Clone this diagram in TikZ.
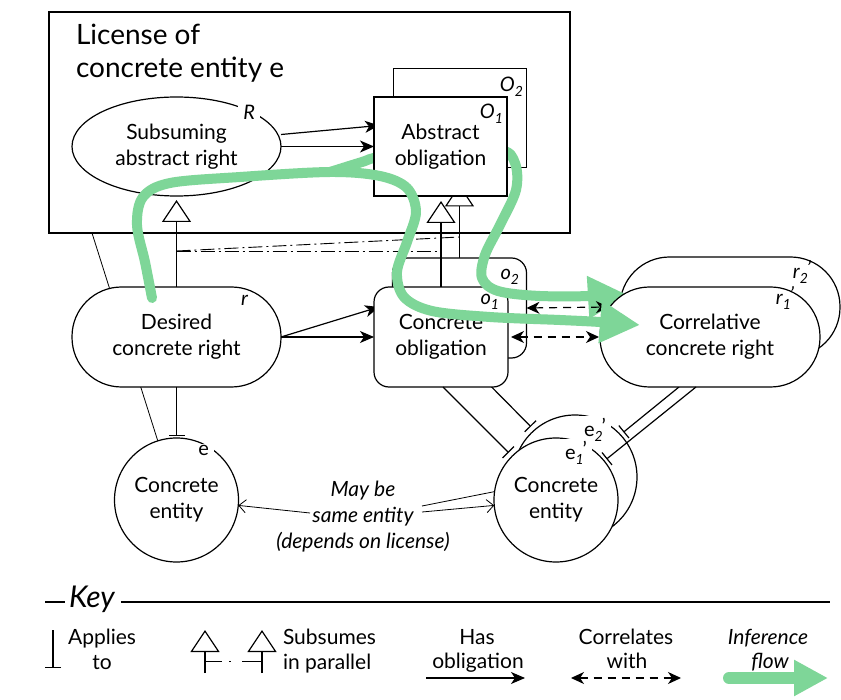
\documentclass[tikz,border=0pt]{standalone}
\usepackage{fontspec}
\setmainfont{Lato}
\usetikzlibrary{arrows.meta,shapes.geometric,calc}
\pgfdeclarelayer{paper}
\pgfdeclarelayer{back}
\pgfsetlayers{paper,back,main}
\definecolor{flowgreen}{RGB}{126,214,152}
% label with an italic subscript, and the same with a prime
\newcommand{\lblsub}[2]{#1\raisebox{-0.45ex}{\fontsize{14}{14}\selectfont\itshape #2}}
\newcommand{\lblsubp}[2]{#1\raisebox{-0.45ex}{\fontsize{14}{14}\selectfont\itshape #2}\kern-0.05em\raisebox{0.35ex}{'}}
\begin{document}
\begin{tikzpicture}[x=1pt,y=-1pt,
  every node/.style={inner sep=0pt, outer sep=0pt},
  boxtext/.style={font=\fontsize{21}{26}\selectfont, align=center},
  thing/.style={boxtext, draw, line width=1.2pt, fill=white},
  absbox/.style={thing, rectangle, minimum width=133pt, minimum height=99pt},
  conbox/.style={thing, rectangle, rounded corners=15pt, minimum width=134pt, minimum height=100pt},
  stadium/.style={thing, rectangle, rounded corners=49.5pt, minimum width=220pt, minimum height=100pt},
  entity/.style={thing, circle, minimum size=124pt},
  tag/.style={font=\fontsize{20}{20}\selectfont\itshape, anchor=base east},
  gaptag/.style={tag, fill=white, inner xsep=5pt, inner ysep=2pt},
  uptag/.style={font=\fontsize{20}{20}\selectfont},
  keytext/.style={font=\fontsize{21}{21}\selectfont, anchor=base},
  link/.style={line width=1.2pt},
  hasobl/.style={link, -{Stealth[length=14pt,width=12pt,inset=4pt]}},
  corr/.style={link, dash pattern=on 8pt off 6pt,
    {Stealth[length=13pt,width=12pt,inset=4pt]}-{Stealth[length=13pt,width=12pt,inset=4pt]}},
  applies/.style={link, -{Bar[width=16pt]}},
  subsumes/.style={link, -{Triangle[width=29pt,length=22pt,fill=white]}},
  inpar/.style={line width=0.9pt, dash pattern=on 14pt off 4pt on 2pt off 4pt},
  faint/.style={line width=0.8pt},
  faintarrow/.style={faint, -{Straight Barb[length=7pt,width=13pt]}},
  flowline/.style={draw=flowgreen, line width=10pt, line cap=round, line join=round},
  flowhead/.style={-{Triangle[width=40pt,length=40pt]}},
]
\begin{pgfonlayer}{paper}
  \fill[white] (0,0) rectangle (841,700);
\end{pgfonlayer}
\useasboundingbox (0,0) rectangle (841,700);

% ---------- licence frame ----------
\node[draw, line width=1.2pt, minimum width=521pt, minimum height=221pt] (lic) at (309.5,122.5) {};
\node[font=\fontsize{28}{33}\selectfont, anchor=base west] (lic1) at (76,45) {License of};
\node[font=\fontsize{28}{33}\selectfont, anchor=base west] (lic2) at (76,78) {concrete entity e};
\coordinate (licfoot) at (92,233);

% ---------- second copies (behind) ----------
\node[absbox] (O2) at (460,118) {};
\node[tag] (lO2) at (523,92) {\lblsub{O}{2}};
\node[conbox] (o2) at (459.5,308) {};
\node[tag] (lo2) at (519,280) {\lblsub{o}{2}};
\node[stadium] (rp2) at (730,307) {};
\node[tag] (lrp2) at (811,279) {\lblsubp{r}{2}};
\node[entity] (ep2) at (575,477) {};
\node[gaptag, uptag] (lep2) at (611,437) {\lblsubp{e}{2}};

% ---------- front nodes ----------
\node[thing, ellipse, minimum width=209pt, minimum height=99pt] (R) at (176.5,146.5) {Subsuming\\abstract right};
\node[gaptag] (lR) at (260,120) {R};
\node[stadium, minimum width=209pt] (rnode) at (176.5,337) {Desired\\concrete right};
\node[tag] (lr) at (248,306) {r};
\node[entity] (e) at (176.5,500) {Concrete\\entity};
\node[gaptag, uptag] (le) at (214,456) {e};
\node[conbox] (o1) at (441,337) {Concrete\\obligation};

% inference flow towards the second correlative right (runs under the abstract obligation)
\draw[flowline, flowhead] plot[smooth, tension=0.55] coordinates {(330,172) (362,162) (380,157) (440,152) (500,150) (515,163) (516,190) (500,225) (485,255) (482,278) (498,291) (540,296) (600,296) (628,295)};

\node[absbox] (O1) at (440.5,146.5) {Abstract\\obligation};
\node[tag] (lO1) at (503,119) {\lblsub{O}{1}};
\node[stadium] (rp1) at (710,337) {Correlative\\concrete right};
\node[tag] (lrp1) at (794,305) {\lblsubp{r}{1}};
\node[entity] (ep1) at (556,500) {Concrete\\entity};
\node[gaptag, uptag] (lep1) at (592,460) {\lblsubp{e}{1}};

\node[font=\fontsize{21}{26}\selectfont\itshape, align=center] (maybe) at (363,517) {May be\\same entity\\(depends on license)};
\coordinate (ml) at (310,513);
\coordinate (mr1) at (422,512);
\coordinate (mr2) at (422,506);

% ---------- connectors hidden behind the front nodes ----------
\begin{pgfonlayer}{back}
  \draw[faint] (licfoot) -- (e);
  \draw[hasobl] ($(R.east)+(0,-12)$) -- ($(O1.west)+(5,-21)$);
  \draw[hasobl] (rnode.east) -- ($(o1.west)+(5,-30)$);
  \draw[subsumes, shorten >=17pt] (o2.north) -- (o2.north |- O2.south);
  \draw[applies, shorten >=5pt] ($(o2.south)+(3.5,0)$) -- (ep2.131);
  \draw[applies, shorten >=4pt] ($(rp1.south)+(-31,0)$) -- (ep2.43);
  \draw[faintarrow] (mr2) -- (ep2.190);
\end{pgfonlayer}

% ---------- visible connectors ----------
\draw[hasobl] (R.east) -- (O1.west);
\draw[hasobl] (rnode.east) -- (o1.west);
\draw[subsumes, shorten >=4pt] (rnode.north) -- (R.south);
\draw[subsumes, shorten >=5pt] (o1.north) -- (o1.north |- O1.south);
\coordinate (par0) at (rnode.north |- 0,251);
\draw[inpar] (par0) -- (par0 -| o1.north);
\draw[inpar] (par0) -- (o2.north |- 0,237);

\draw[applies, shorten >=2pt] (rnode.south) -- (e.north);
\draw[applies, shorten >=5pt] ($(o1.south)+(2,0)$) -- (ep1.135);
\draw[applies, shorten >=3pt] ($(rp1.south)+(-14,0)$) -- (ep1.39);

\draw[corr] (o2.east) -- ($(rp1.west)+(9,-30)$);
\draw[corr] ($(o1.east)+(3,0)$) -- ($(rp1.west)+(-1,0)$);

\draw[faintarrow] (ml) -- (e.-5);
\draw[faintarrow] (mr1) -- (ep1.185);

% inference flow from the desired right to the first correlative right
\draw[flowline, flowhead] plot[smooth, tension=0.55] coordinates {(152,298) (145,262) (137,225) (143,197) (170,183) (240,177) (330,172) (380,176) (407,188) (416,212) (407,242) (397,272) (404,297) (432,311) (490,317) (560,320) (600,322) (640,325)};
\node[tag] (lo1) at (499,305) {\lblsub{o}{1}};

% ---------- key ----------
\node[font=\fontsize{30}{30}\selectfont\itshape, anchor=base west] (key) at (69,607) {Key};
\coordinate (keystart) at (45,602);
\coordinate (keyend) at (830,602);
\draw[link] (keystart) -- ($(key.base west)+(-4,-5)$);
\draw[link] ($(key.base east)+(6,-5)$) -- (keyend);

\coordinate (kA1) at (53,630);
\coordinate (kA2) at (53,668);
\draw[applies] (kA1) -- (kA2);
\node[keytext] (kAt1) at (102,644) {Applies};
\node[keytext] (kAt2) at (102,669) {to};

\coordinate (kS1a) at (205,673);
\coordinate (kS1b) at (205,630);
\coordinate (kS2a) at (262,673);
\coordinate (kS2b) at (262,630);
\draw[subsumes] (kS1a) -- (kS1b);
\draw[subsumes] (kS2a) -- (kS2b);
\draw[line width=0.9pt, dash pattern=on 17pt off 7pt on 2pt off 11pt on 20pt] (kS1a |- 0,661) -- (kS2a |- 0,661);
\node[keytext, anchor=base west] (kSt1) at (283,644) {Subsumes};
\node[keytext, anchor=base west] (kSt2) at (283,669) {in parallel};

\coordinate (kH1) at (426,678);
\coordinate (kH2) at (525,678);
\draw[hasobl] (kH1) -- (kH2);
\node[keytext] (kHt1) at (477,644) {Has};
\node[keytext] (kHt2) at (478,668) {obligation};

\coordinate (kC1) at (571,678);
\coordinate (kC2) at (681,678);
\draw[corr] (kC1) -- (kC2);
\node[keytext] (kCt1) at (626,644) {Correlates};
\node[keytext] (kCt2) at (627,668) {with};

\coordinate (kF1) at (729,678);
\coordinate (kF2) at (828,678);
\draw[flowline, line width=12pt, -{Triangle[width=34pt,length=34pt]}] (kF1) -- (kF2);
\node[keytext, font=\fontsize{21}{21}\selectfont\itshape] (kFt1) at (768,644) {Inference};
\node[keytext, font=\fontsize{21}{21}\selectfont\itshape] (kFt2) at (770,668) {flow};
\end{tikzpicture}
\end{document}
